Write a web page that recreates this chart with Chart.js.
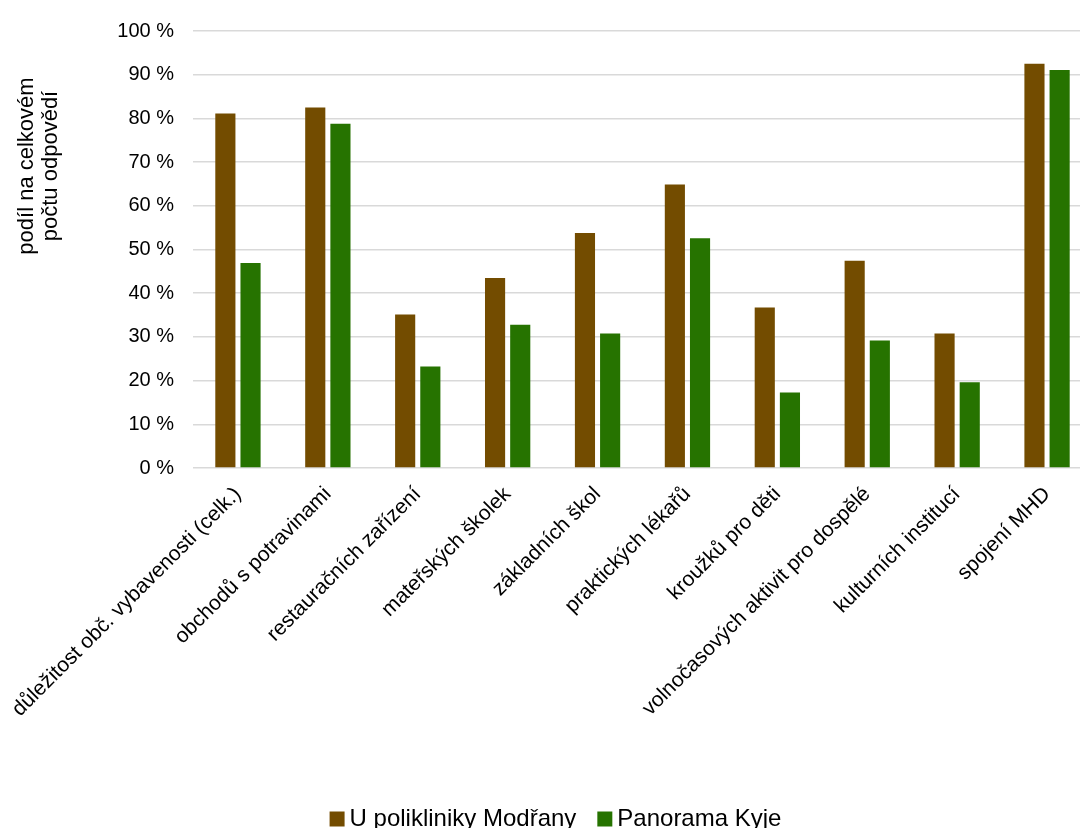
<!DOCTYPE html>
<html lang="cs">
<head>
    <meta charset="UTF-8">
    <title>Podíl na celkovém počtu odpovědí</title>
    <script src="https://cdn.jsdelivr.net/npm/chart.js"></script>
    <style>
        html, body { margin: 0; padding: 0; background: #fff; overflow: hidden; }
        .chart-box { position: relative; width: 1092px; height: 828px; }
    </style>
</head>
<body>
<div class="chart-box">
    <canvas id="chart"></canvas>
</div>

<script>
const categories = [
    "důležitost obč. vybavenosti (celk.)",
    "obchodů s potravinami",
    "restauračních zařízení",
    "mateřských školek",
    "základních škol",
    "praktických lékařů",
    "kroužků pro děti",
    "volnočasových aktivit pro dospělé",
    "kulturních institucí",
    "spojení MHD"
];
const modrany = [81.1, 82.5, 35.1, 43.5, 53.8, 64.9, 36.7, 47.4, 30.8, 92.5];
const kyje = [46.9, 78.8, 23.2, 32.8, 30.8, 52.6, 17.3, 29.2, 19.6, 91.1];
const seriesNames = ["U polikliniky Modřany", "Panorama Kyje"];
const yTitle = ["podíl na celkovém", "počtu odpovědí"];

const font = "'Liberation Sans', Arial, sans-serif";

// y axis title drawn by hand so it can sit higher than the axis centre
const yTitlePlugin = {
    id: "yTitle",
    afterDraw(chart) {
        const ctx = chart.ctx;
        ctx.save();
        ctx.translate(38, 166);
        ctx.rotate(-Math.PI / 2);
        ctx.font = "22px " + font;
        ctx.fillStyle = "#000";
        ctx.textAlign = "center";
        ctx.textBaseline = "middle";
        ctx.fillText(yTitle[0], 0, -11);
        ctx.fillText(yTitle[1], 0, 13);
        ctx.restore();
    }
};

new Chart(document.getElementById("chart"), {
    type: "bar",
    data: {
        labels: categories,
        datasets: [
            { label: seriesNames[0], data: modrany, backgroundColor: "#734c00" },
            { label: seriesNames[1], data: kyje, backgroundColor: "#267300" }
        ]
    },
    options: {
        responsive: true,
        maintainAspectRatio: false,
        animation: false,
        // left padding nudges the centred legend to the right, y width makes up for it
        layout: { padding: { top: 22, right: 0, left: 26, bottom: -13 } },
        datasets: { bar: { barPercentage: 0.8, categoryPercentage: 0.56 } },
        scales: {
            y: {
                min: 0,
                max: 100,
                ticks: {
                    stepSize: 10,
                    padding: 19,
                    color: "#000",
                    font: { family: font, size: 20 },
                    callback: v => v + " %"
                },
                grid: { color: "#d9d9d9", lineWidth: 1.5, drawTicks: false },
                border: { display: false },
                afterFit(axis) { axis.width = 167; }
            },
            x: {
                ticks: {
                    minRotation: 45,
                    maxRotation: 45,
                    autoSkip: false,
                    padding: 6,
                    color: "#000",
                    font: { family: font, size: 21 }
                },
                grid: { display: false },
                border: { display: false },
                afterFit(axis) { axis.height = 311; }
            }
        },
        plugins: {
            legend: {
                position: "bottom",
                labels: {
                    color: "#000",
                    font: { family: font, size: 24 },
                    usePointStyle: true,
                    pointStyle: "rect",
                    boxWidth: 1,
                    boxHeight: 15,
                    padding: 28
                }
            },
            tooltip: { enabled: false }
        }
    },
    plugins: [yTitlePlugin]
});
</script>
</body>
</html>
